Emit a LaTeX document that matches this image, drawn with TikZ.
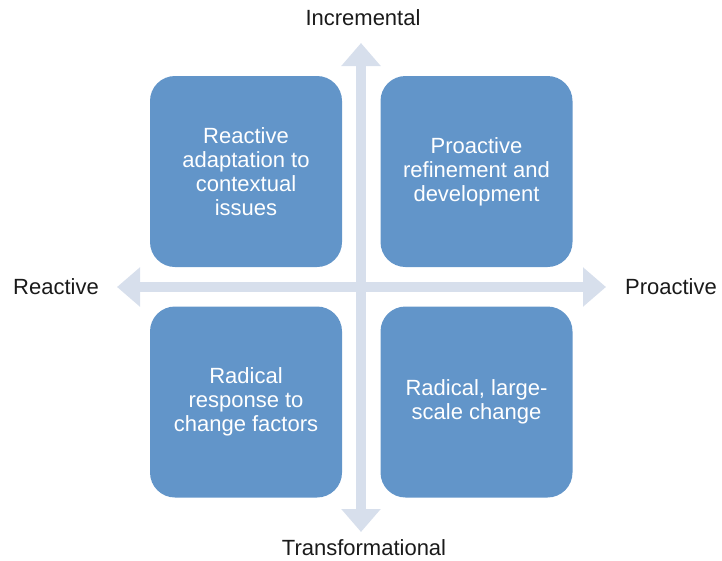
\documentclass[tikz,border=0pt]{standalone}
\usepackage{fontspec}
\setmainfont{Liberation Sans}
\usetikzlibrary{arrows.meta, positioning}

\definecolor{quadblue}{HTML}{6295C9}
\definecolor{axisgrey}{HTML}{D7DFEC}
\definecolor{labeltext}{HTML}{1A1A1A}

\begin{document}
\begin{tikzpicture}
  [x=1pt, y=-1pt,
  % quadrant
  quad/.style = {rectangle,
    rounded corners = 25pt,
    fill = quadblue, text = white,
    minimum width = 192pt,
    minimum height = 191pt,
    align = center,
    font = \fontsize{22}{24}\selectfont},
  % axis label
  axlabel/.style = {text = labeltext,
    font = \fontsize{22}{24}\selectfont},
  % axis
  axis/.style = {draw = axisgrey, line width = 10pt,
    {Triangle[width=38pt, length=23pt]}-{Triangle[width=38pt, length=23pt]}},
  ]

  \useasboundingbox (0,0) rectangle (722,560);

  % arrow ends
  \coordinate (wtip) at (117,287);
  \coordinate (etip) at (606,287);
  \coordinate (ntip) at (361,43);
  \coordinate (stip) at (361,532);

  % path
  \path [axis] (wtip) -- (etip);
  \path [axis] (ntip) -- (stip);

  % nodes
  \node [quad] (adapt) at (246,171.5) {Reactive\\adaptation to\\contextual\\issues};
  \node [quad] (refine) at (476.5,171.5) {Proactive\\refinement and\\development};
  \node [quad] (respond) at (246,402) {Radical\\response to\\change factors};
  \node [quad] (largescale) at (476.5,402) {Radical, large-\\scale change};

  \node [axlabel] (incr) at (363,18) {Incremental};
  \node [axlabel] (transf) at (364,548) {Transformational};
  \node [axlabel] (reac) at (56,287) {Reactive};
  \node [axlabel] (proac) at (671,287) {Proactive};

\end{tikzpicture}
\end{document}
